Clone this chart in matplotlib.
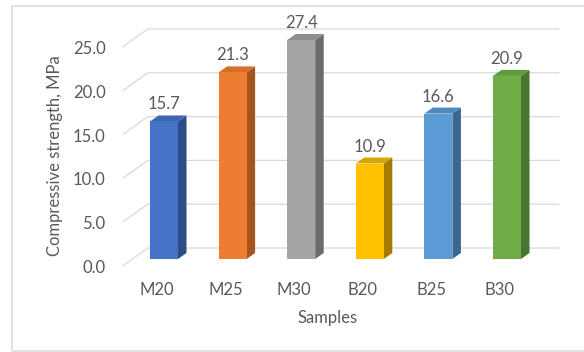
import matplotlib
matplotlib.use("Agg")
import matplotlib.pyplot as plt
from matplotlib.patches import Polygon, Rectangle

# Data
samples = ["M20", "M25", "M30", "B20", "B25", "B30"]
strength = [15.7, 21.3, 27.4, 10.9, 16.6, 20.9]
y_ticks = [0, 5, 10, 15, 20, 25]

front_colors = ["#4472C4", "#ED7D31", "#A5A5A5", "#FFC000", "#5B9BD5", "#70AD47"]
side_colors = ["#2D4D87", "#A4541F", "#6B6B6B", "#A67C00", "#3A6690", "#4A7530"]
top_colors = ["#3C66B0", "#D66E28", "#8F8F8F", "#D9A300", "#4E88BE", "#609B3B"]

plt.rcParams["font.family"] = ["Lato", "DejaVu Sans"]
TEXT = "#595959"
GRID = "#D9D9D9"
FS = 12

W, H = 584, 352
fig = plt.figure(figsize=(W / 100, H / 100), dpi=100)

# Axes = plane of the bar front faces
ax_left, ax_right, ax_bottom, ax_top = 132.7, 544.3, 259.0, 40.0
ax = fig.add_axes([ax_left / W, (H - ax_bottom) / H,
                   (ax_right - ax_left) / W, (ax_bottom - ax_top) / H])
n = len(samples)
ymax = y_ticks[-1]
ax.set_xlim(-0.5, n - 0.5)
ax.set_ylim(0, ymax)
ax.axis("off")

cat_px = (ax_right - ax_left) / n
unit_px = (ax_bottom - ax_top) / ymax


def px(dx, dy):
    """Pixel offset (right, up) converted to data units."""
    return dx / cat_px, dy / unit_px


# Oblique-projection offsets
back_dx, back_dy = px(15, 11)      # back wall
floor_dx, floor_dy = px(-10, -7)   # front edge of floor
depth_dx, depth_dy = px(8.5, 6)    # bar depth
bar_off, _ = px(-17, 0)
bar_w, _ = px(28, 0)

# Gridlines: slanted side-wall part + back wall part
x_lo, x_hi = -0.5, n - 0.5
for t in y_ticks:
    ax.plot([x_lo + floor_dx, x_lo + back_dx, x_hi + back_dx],
            [t + floor_dy, t + back_dy, t + back_dy],
            color=GRID, lw=0.9, clip_on=False, zorder=1, solid_capstyle="butt")
    lx, ly = px(-17, -2)
    ax.text(x_lo + floor_dx + lx, t + floor_dy + ly, f"{t:.1f}",
            ha="right", va="center", fontsize=FS, color=TEXT, clip_on=False)

# 3D-style columns
for i, (v, fc, sc, tc) in enumerate(zip(strength, front_colors, side_colors, top_colors)):
    h = min(v, ymax)
    x0 = i + bar_off
    x1 = x0 + bar_w
    ax.add_patch(Polygon([(x1, 0), (x1 + depth_dx, depth_dy),
                          (x1 + depth_dx, h + depth_dy), (x1, h)],
                         closed=True, facecolor=sc, edgecolor="none",
                         clip_on=False, zorder=3))
    ax.add_patch(Polygon([(x0, h), (x1, h), (x1 + depth_dx, h + depth_dy),
                          (x0 + depth_dx, h + depth_dy)],
                         closed=True, facecolor=tc, edgecolor="none",
                         clip_on=False, zorder=3))
    ax.add_patch(Rectangle((x0, 0), bar_w, h, facecolor=fc, edgecolor="none",
                           clip_on=False, zorder=4))
    _, lab_dy = px(0, 11)
    ax.text(x0 + bar_w / 2, h + depth_dy + lab_dy, f"{v:.1f}",
            ha="center", va="center", fontsize=FS, color=TEXT,
            clip_on=False, zorder=5)

# Category labels along the floor front edge
_, cat_dy = px(0, -31)
for i, s in enumerate(samples):
    ax.text(i + floor_dx, cat_dy, s, ha="center", va="center",
            fontsize=FS, color=TEXT, clip_on=False)

# Axis titles
fig.text(55 / W, 1 - 156 / H, "Compressive strength, MPa", rotation=90,
         ha="center", va="center", fontsize=FS, color=TEXT)
fig.text(328 / W, 1 - 318 / H, "Samples", ha="center", va="center",
         fontsize=FS, color=TEXT)

# Chart area border
fig.add_artist(Rectangle((11.5 / W, 1.0 / H), (600 - 11.5) / W, (351 - 5.5) / H,
                         transform=fig.transFigure, fill=False,
                         edgecolor=GRID, lw=1.1))

fig.savefig("out.png", dpi=100)
